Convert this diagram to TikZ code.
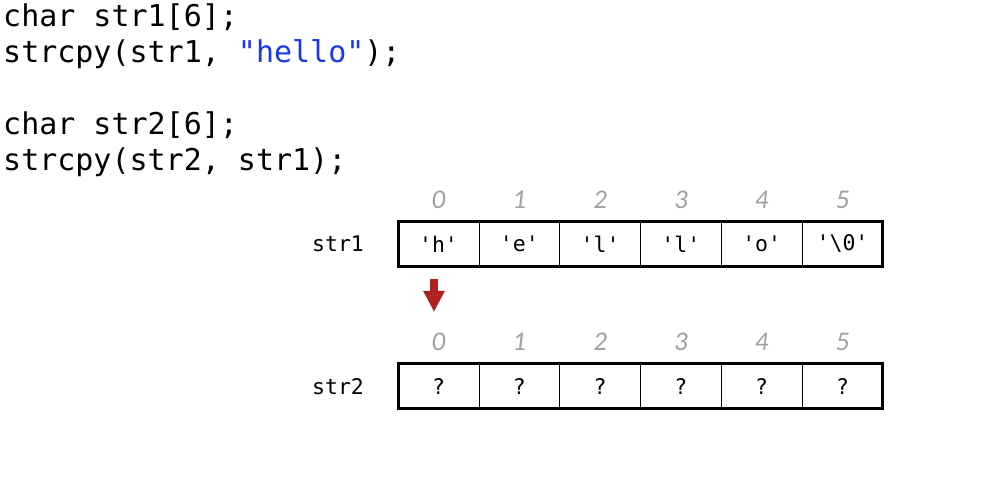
\documentclass[tikz,border=0pt]{standalone}
\usepackage{fontspec}
\setmonofont{DejaVu Sans Mono}
\newfontfamily\idxfont{Carlito}
\usetikzlibrary{arrows.meta,positioning}

\definecolor{idxgray}{RGB}{160,160,160}
\definecolor{strblue}{RGB}{25,55,235}
\definecolor{cpyred}{RGB}{178,34,28}

\begin{document}
\begin{tikzpicture}[x=1pt,y=-1pt]

    \tikzstyle{code} = [anchor=base west,inner sep=0pt,font=\ttfamily\fontsize{30}{36}\selectfont]
    \tikzstyle{cell} = [rectangle,draw,line width=0.8pt,minimum width=80.8pt,minimum height=45pt,inner sep=0pt,outer sep=0pt,font=\ttfamily\fontsize{21.5}{25}\selectfont]
    \tikzstyle{frame} = [draw,line width=3pt]
    \tikzstyle{idx} = [inner sep=0pt,text=idxgray,font=\idxfont\itshape\fontsize{27}{30}\selectfont]
    \tikzstyle{arrname} = [inner sep=0pt,font=\ttfamily\fontsize{21.5}{25}\selectfont]
    \tikzstyle{cpyarrow} = [cpyred,line width=8pt,-{Triangle[width=20pt,length=21pt]}]

    \useasboundingbox (0,0) rectangle (994,478);

    % code
    \node[code] (decl1) at (3,27) {char str1[6];};
    \node[code] (copy1) at (3,63) {strcpy(str1, \textcolor{strblue}{"hello"});};
    \node[code] (decl2) at (3,135) {char str2[6];};
    \node[code] (copy2) at (3,171) {strcpy(str2, str1);};

    % str1
    \node[cell] (a0) at (438.5,244) {'h'};
    \node[cell] (a1) [right=0pt of a0] {'e'};
    \node[cell] (a2) [right=0pt of a1] {'l'};
    \node[cell] (a3) [right=0pt of a2] {'l'};
    \node[cell] (a4) [right=0pt of a3] {'o'};
    \node[cell] (a5) [right=0pt of a4] {'\textbackslash 0'};
    \draw[frame] (a0.north west) rectangle (a5.south east);
    \node[arrname] (name1) [left=34pt of a0] {str1};

    % str2
    \node[cell] (b0) at (438.5,386.5) {?};
    \node[cell] (b1) [right=0pt of b0] {?};
    \node[cell] (b2) [right=0pt of b1] {?};
    \node[cell] (b3) [right=0pt of b2] {?};
    \node[cell] (b4) [right=0pt of b3] {?};
    \node[cell] (b5) [right=0pt of b4] {?};
    \draw[frame] (b0.north west) rectangle (b5.south east);
    \node[arrname] (name2) [left=34pt of b0] {str2};

    % indices
    \foreach \i in {0,...,5} {
        \node[idx] (ia\i) at ([yshift=44pt]a\i.center) {\i};
        \node[idx] (ib\i) at ([yshift=45pt]b\i.center) {\i};
    }

    % copy arrow
    \coordinate (cpytop) at (434,279);
    \coordinate (cpytip) at (434,312);
    \draw[cpyarrow] (cpytop) -- (cpytip);

\end{tikzpicture}
\end{document}
